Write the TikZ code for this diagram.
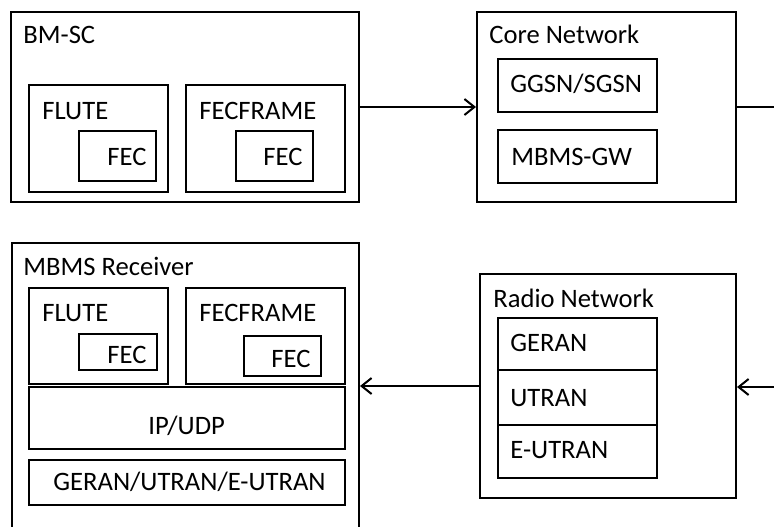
\documentclass[tikz,border=0pt]{standalone}
\usepackage{fontspec}
\setmainfont{Carlito}
\usetikzlibrary{fit,arrows.meta}
\tikzset{
  box/.style={draw,line width=1pt,inner sep=0pt},
  lbl/.style={anchor=base west,inner sep=0pt,font=\fontsize{13.3}{16}\selectfont},
  >={Straight Barb[length=5pt,width=8pt]},
}
\begin{document}
\begin{tikzpicture}[x=0.5pt,y=-0.5pt]
\useasboundingbox (0,0) rectangle (774,526);
\clip (0,0) rectangle (774,526);
% boxes, corners in pixels
\path foreach \n/\xa/\ya/\xb/\yb in {bmsc/11/12/359/202,flA/29/85/168/192,fecA/79/131/156/181,
    frA/186/85/345/192,fecB/236/131/313/181,core/477/12/736/202,ggsn/498/59/657/112,gw/498/130/657/183,
    rcv/12/243/359/560,flB/29/288/168/384,fecC/79/334/157/370,frB/186/288/345/384,fecD/244/336/321/376,
    ip/29/387/345/449,phy/29/460/345/505,
    radio/480/274/736/498,geran/498/318/657/370,utran/498/370/657/425,eutran/498/425/657/478}
    {node[box,fit={(\xa,\ya)(\xb,\yb)}] (\n) {}};
% labels
\path foreach \n/\x/\y/\t in {tBmsc/23/43/BM-SC,tFlA/42/119/FLUTE,tFrA/199/119/FECFRAME,tFecA/107/165/FEC,
    tFecB/263/165/FEC,tCore/489/43/Core Network,tGgsn/510/92/GGSN\slash SGSN,tGw/511/165/MBMS-GW,
    tRcv/23/275/MBMS Receiver,tFlB/42/321/FLUTE,tFrB/199/321/FECFRAME,tFecC/107/363/FEC,tFecD/271/367/FEC,
    tIp/148/434/IP\slash UDP,tPhy/53/490/GERAN\slash UTRAN\slash E-UTRAN,
    tRadio/493/307/Radio Network,tGeran/510/351/GERAN,tUtran/510/406/UTRAN,tEutran/510/458/E-UTRAN}
    {(\x,\y) node[lbl] (\n) {\t}};
% connectors
\coordinate (outR) at (774,107);
\coordinate (inR) at (774,387);
\draw[line width=1pt,->] (bmsc) -- (core);
\draw[line width=1pt] (core) -- (outR);
\draw[line width=1pt,->] (inR) -- (inR -| radio.east);
\draw[line width=1pt,->] (radio) -- (radio -| rcv.east);
\end{tikzpicture}
\end{document}
